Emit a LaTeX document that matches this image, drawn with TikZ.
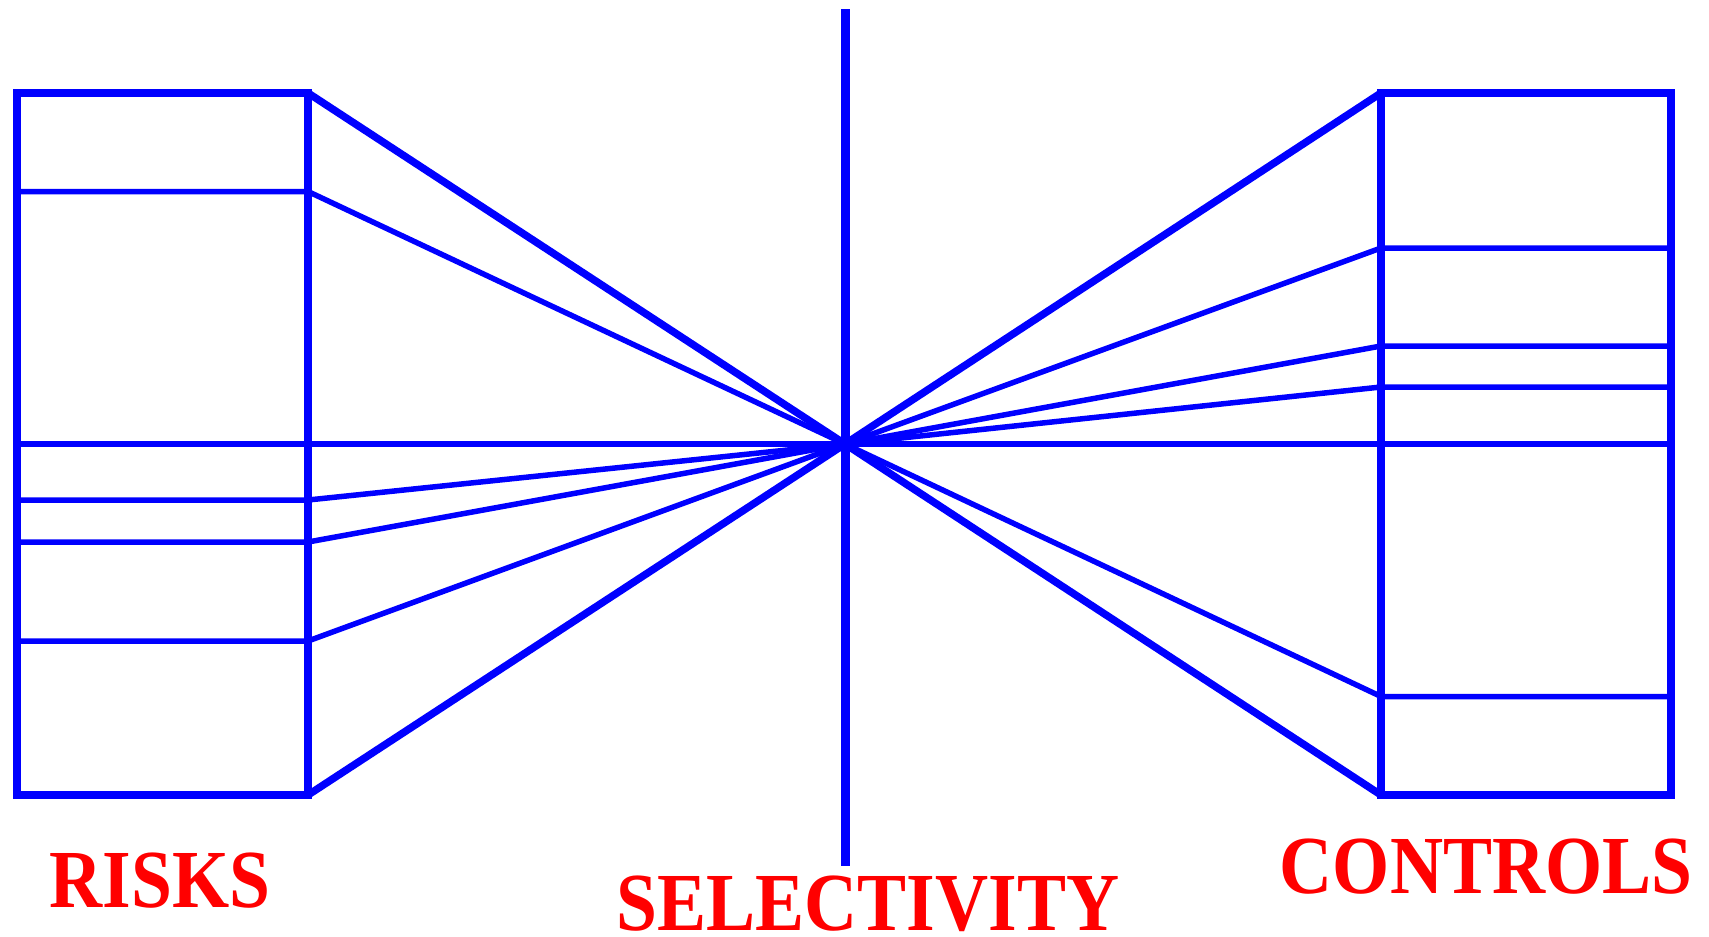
\documentclass[tikz,border=0pt]{standalone}
\usepackage{fontspec}
\setmainfont{Liberation Serif}
\usepackage{xcolor}
\usepackage{graphicx}
\usepackage{tikz}

\definecolor{rayblue}{RGB}{0,0,255}
\definecolor{labred}{RGB}{255,0,0}
\newcommand{\tallcap}[1]{\scalebox{0.98}[1.1]{#1}}

\tikzset{
  boxline/.style={draw=rayblue, line width=8pt},
  fanthick/.style={draw=rayblue, line width=7.5pt},
  fanthin/.style={draw=rayblue, line width=5.5pt},
  caption/.style={text=labred, font=\fontsize{75}{75}\selectfont\bfseries, anchor=base, inner sep=0pt, text depth=0pt}
}

\begin{document}
\begin{tikzpicture}[x=1pt, y=-1pt, line join=miter]
    \useasboundingbox (0,0) rectangle (1709,937);
    \coordinate (c) at (845,444);
    % the two boxes
    \draw[boxline] (17,93) rectangle (308,795);
    \draw[boxline] (1381,93) rectangle (1671,795);
    \coordinate (ltop) at (308,93);
    \coordinate (lbot) at (308,795);
    \coordinate (rtop) at (1381,93);
    \coordinate (rbot) at (1381,795);
    \coordinate (lmid) at (17,444);
    \coordinate (rmid) at (1671,444);
    % selectivity axis
    \coordinate (vtop) at (845,9);
    \coordinate (vbot) at (845,866);
    \draw[rayblue, line width=9pt] (vtop) -- (vbot);
    % horizontal line through both boxes
    \draw[fanthin] (lmid) -- (rmid);
    % outer rays to the corners
    \draw[fanthick] (ltop) -- (c) -- (rbot);
    \draw[fanthick] (lbot) -- (c) -- (rtop);
    % risks: rows and rays
    \foreach \y/\n in {191.5/1, 500/2, 542/3, 641/4} {
        \coordinate (l\n) at (308,\y);
        \coordinate (la\n) at (17,\y);
        \draw[fanthin] (la\n) -- (l\n) -- (c);
    }
    % controls: rows and rays
    \foreach \y/\n in {248/1, 346/2, 387/3, 696.5/4} {
        \coordinate (r\n) at (1381,\y);
        \coordinate (rb\n) at (1671,\y);
        \draw[fanthin] (rb\n) -- (r\n) -- (c);
    }
    % labels
    \node[caption] (risks) at (160,907) {\tallcap{RISKS}};
    \node[caption] (select) at (868,930) {\tallcap{SELECTIVITY}};
    \node[caption] (ctrl) at (1486,893) {\tallcap{CONTROLS}};
\end{tikzpicture}
\end{document}
